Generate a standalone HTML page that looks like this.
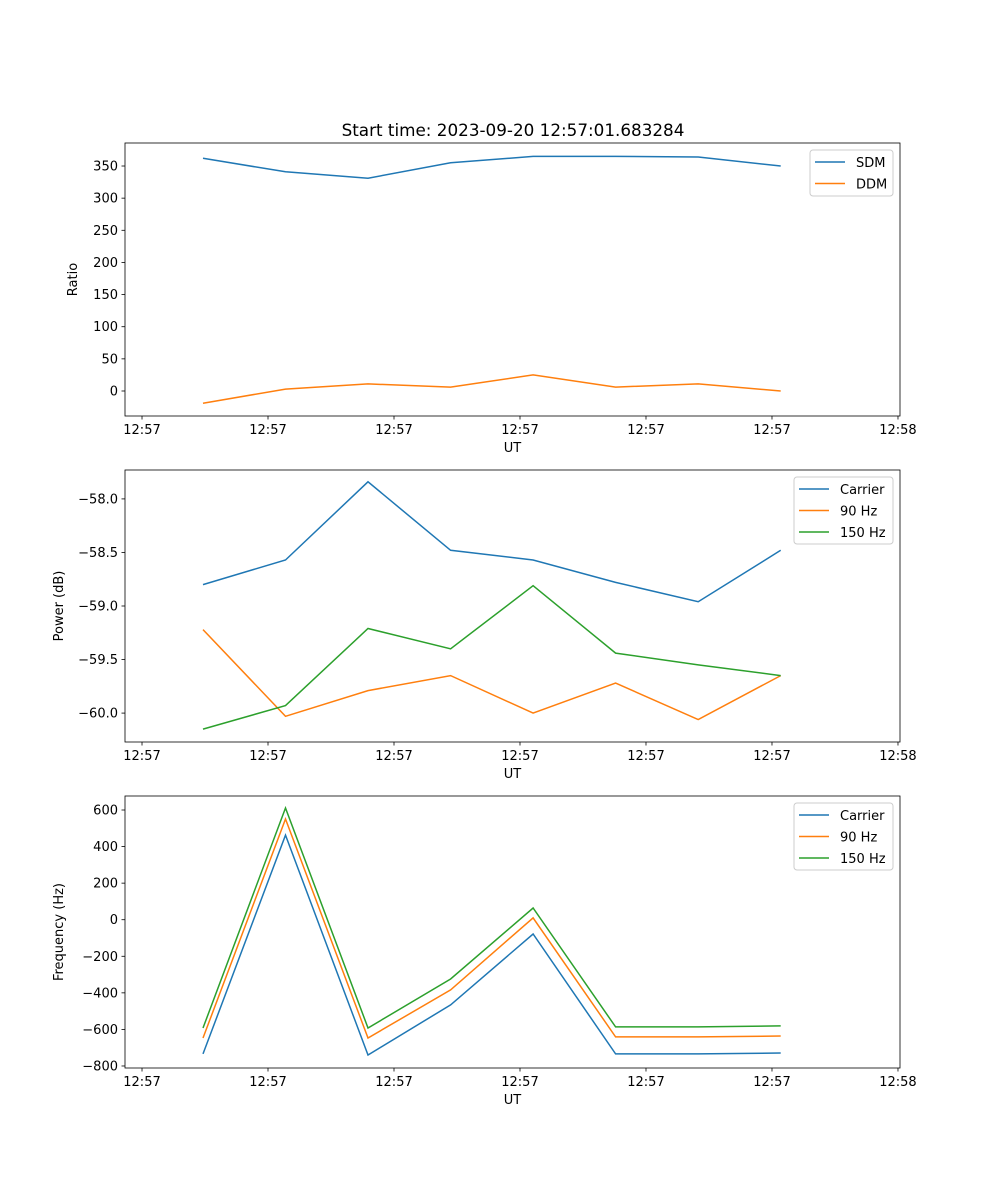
<!DOCTYPE html>
<html><head><meta charset="utf-8"><style>
body{margin:0;background:#fff}
svg{display:block;font-family:"DejaVu Sans","Liberation Sans",sans-serif}
</style></head><body>
<svg id="fig" width="1000" height="1200" xmlns="http://www.w3.org/2000/svg"></svg>
<script>
const times = [4.84, 11.39, 17.94, 24.49, 31.04, 37.59, 44.14, 50.69];
const xTickLabels = ["12:57","12:57","12:57","12:57","12:57","12:57","12:58"];
const xTickValues = [0,10,20,30,40,50,60];
const sdm = [362, 341, 331, 355, 365, 365, 364, 350];
const ddm = [-19, 3, 11, 6, 25, 6, 11, 0];
const pCarrier = [-58.80, -58.57, -57.84, -58.48, -58.57, -58.78, -58.96, -58.48];
const p90 = [-59.22, -60.03, -59.79, -59.65, -60.00, -59.72, -60.06, -59.65];
const p150 = [-60.15, -59.93, -59.21, -59.40, -58.81, -59.44, -59.55, -59.65];
const fCarrier = [-734, 463, -740, -466, -78, -734, -734, -729];
const f90 = [-647, 551, -647, -384, 10, -641, -641, -636];
const f150 = [-592, 611, -592, -324, 64, -586, -586, -581];
const ticks1 = [0,50,100,150,200,250,300,350];
const ticks2 = [-60.0,-59.5,-59.0,-58.5,-58.0];
const ticks3 = [-800,-600,-400,-200,0,200,400,600];

const NS="http://www.w3.org/2000/svg";
const svg=document.getElementById('fig');
function el(tag,attrs,parent){const e=document.createElementNS(NS,tag);for(const k in attrs)e.setAttribute(k,attrs[k]);(parent||svg).appendChild(e);return e;}
const L=125,R=900,xmin=-1.35,xmax=60.16;
const xs=v=>L+(v-xmin)/(xmax-xmin)*(R-L);
const C=['#1f77b4','#ff7f0e','#2ca02c'];

function panel(name,top,bot,ymin,ymax,ticks,fmt,series,labels,ylab,legX,legW){
  const g=el('g',{});
  
  
  const ys=v=>bot-(v-ymin)/(ymax-ymin)*(bot-top);
  series.forEach((s,i)=>{
    const p=el('polyline',{points:s.map((v,j)=>xs(times[j]).toFixed(1)+','+ys(v).toFixed(1)).join(' '),fill:'none',stroke:C[i],'stroke-width':1.5},g);
    
    
  });
  el('rect',{x:L,y:top,width:R-L,height:bot-top,fill:'none',stroke:'#000','stroke-width':0.8},g);
  xTickValues.forEach((v,i)=>{
    const x=xs(v);
    el('line',{x1:x,x2:x,y1:bot,y2:bot+3.5,stroke:'#000','stroke-width':0.8},g);
    const t=el('text',{x:x,y:bot+18,'text-anchor':'middle','font-size':13},g);t.textContent=xTickLabels[i];
    
    
  });
  ticks.forEach(v=>{
    const y=ys(v);
    el('line',{x1:L-3.5,x2:L,y1:y,y2:y,stroke:'#000','stroke-width':0.8},g);
    const t=el('text',{x:L-7,y:y+4.5,'text-anchor':'end','font-size':13},g);t.textContent=fmt(v);
    
    
  });
  const xl=el('text',{x:(L+R)/2,y:bot+36,'text-anchor':'middle','font-size':13},g);xl.textContent='UT';
  
  
  const lx=L-(ylab.length>6?62:48);
  const yl=el('text',{x:lx,y:(top+bot)/2,'text-anchor':'middle','font-size':13,transform:`rotate(-90 ${lx} ${(top+bot)/2})`},g);yl.textContent=ylab;
  
  
  const lg=el('g',{},g);
  
  
  const lh=4+labels.length*21;
  el('rect',{x:legX,y:top+7,width:legW,height:lh,rx:3,fill:'#fff',stroke:'#ccc','stroke-width':1},lg);
  labels.forEach((lab,i)=>{
    const y=top+19+i*21.5;
    el('line',{x1:legX+5,x2:legX+35,y1:y,y2:y,stroke:C[i],'stroke-width':1.5},lg);
    const t=el('text',{x:legX+46,y:y+5,'font-size':13},lg);t.textContent=lab;
    
    
  });
}
const tt=el('text',{x:513,y:136,'text-anchor':'middle','font-size':16.8});tt.textContent='Start time: 2023-09-20 12:57:01.683284';


panel('ratio',143,416,-38.9,385.8,ticks1,v=>String(v),[sdm,ddm],['SDM','DDM'],'Ratio',810,83);
panel('power',470,742,-60.27,-57.73,ticks2,v=>(v).toFixed(1).replace('-','\u2212'),[pCarrier,p90,p150],['Carrier','90 Hz','150 Hz'],'Power (dB)',794,99);
panel('frequency',796,1068,-811,676.6,ticks3,v=>String(v).replace('-','\u2212'),[fCarrier,f90,f150],['Carrier','90 Hz','150 Hz'],'Frequency (Hz)',794,99);
</script>
</body></html>
